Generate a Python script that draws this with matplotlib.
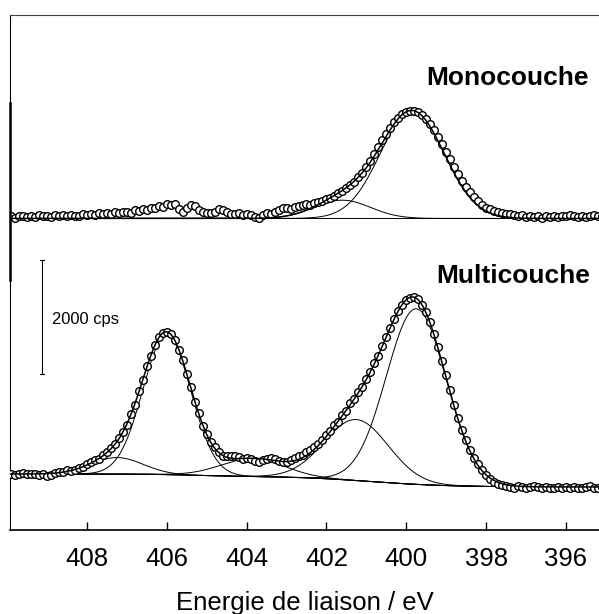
import numpy as np
import matplotlib
matplotlib.use('Agg')
import matplotlib.pyplot as plt

plt.rcParams['font.family'] = ['Liberation Sans', 'DejaVu Sans']

# Binding energy of the measured points (eV), 410.0 down to 395.0 every 0.1 eV
energy = np.linspace(410.0, 395.0, 151)

# Monolayer spectrum, counts above its flat baseline (cps)
mono_counts = [
    20, 45, 10, 35, 50, 25, 40, 30, 55, 35,
    45, 30, 60, 40, 55, 35, 65, 50, 40, 70,
    55, 75, 60, 90, 70, 100, 85, 110, 95, 105,
    120, 100, 140, 125, 165, 150, 190, 175, 215, 200,
    245, 230, 250, 160, 120, 190, 235, 220, 150, 110,
    100, 95, 120, 160, 150, 110, 85, 70, 90, 65,
    80, 60, 30, 5, 60, 90, 80, 105, 150, 175,
    180, 170, 195, 210, 235, 250, 240, 275, 290, 310,
    335, 360, 400, 445, 480, 540, 590, 640, 720, 800,
    900, 1010, 1130, 1250, 1370, 1480, 1590, 1690, 1770, 1830,
    1870, 1890, 1885, 1860, 1820, 1750, 1660, 1550, 1430, 1300,
    1170, 1040, 910, 780, 660, 550, 455, 370, 300, 240,
    190, 165, 135, 115, 100, 85, 70, 60, 50, 55,
    30, 50, 25, 40, 15, 35, 20, 45, 30, 50,
    35, 55, 40, 30, 50, 25, 45, 60, 40, 35,
    50,
]

# Multilayer spectrum (cps)
multi_counts = [
    975, 990, 970, 985, 995, 975, 990, 980, 965, 985,
    945, 960, 1000, 1020, 1010, 1045, 1030, 1060, 1095, 1110,
    1150, 1190, 1220, 1250, 1320, 1370, 1440, 1510, 1610, 1720,
    1850, 2040, 2200, 2430, 2630, 2870, 3050, 3250, 3380, 3450,
    3480, 3440, 3330, 3150, 2980, 2730, 2510, 2250, 2050, 1830,
    1690, 1540, 1450, 1370, 1290, 1300, 1290, 1300, 1280, 1250,
    1270, 1240, 1210, 1190, 1230, 1250, 1260, 1240, 1210, 1200,
    1200, 1230, 1260, 1290, 1320, 1360, 1400, 1450, 1510, 1580,
    1660, 1740, 1840, 1900, 2010, 2090, 2220, 2290, 2420, 2510,
    2640, 2770, 2930, 3060, 3230, 3390, 3550, 3700, 3840, 3950,
    4030, 4070, 4090, 4050, 3950, 3820, 3650, 3440, 3210, 2960,
    2710, 2450, 2200, 1970, 1760, 1570, 1410, 1270, 1150, 1050,
    970, 900, 850, 810, 790, 770, 760, 745, 770, 755,
    740, 760, 775, 750, 735, 760, 745, 730, 750, 740,
    755, 745, 760, 740, 730, 750, 765, 745, 735, 755,
    750,
]

# Fitted components: centre (eV), height (cps), sigma (eV)
mono_centres = [401.6, 399.85]
mono_heights = [320, 1880]
mono_sigmas = [0.70, 0.80]

multi_centres = [407.25, 406.0, 403.85, 401.25, 399.75]
multi_heights = [290, 2450, 310, 1070, 3080]
multi_sigmas = [0.65, 0.60, 0.80, 0.80, 0.75]

# Shirley-like background of the multilayer: low level + steps (height, centre, width)
bg_low = 754
bg_steps = [(193, 400.9, 1.0), (35, 405.5, 0.5)]

mono_offset = 5465  # vertical shift of the monolayer spectrum


def gauss(e, c, h, s):
    return h * np.exp(-(e - c) ** 2 / (2 * s ** 2))


def background(e):
    b = np.full_like(e, bg_low, dtype=float)
    for h, c, w in bg_steps:
        b += h / (1 + np.exp(-(e - c) / w))
    return b


fig = plt.figure(figsize=(5.99, 6.14), dpi=100)
ax = fig.add_axes([10 / 599, 1 - 530 / 614, 589 / 599, 515 / 614])

ef = np.linspace(409.95, 395.15, 800)
thin = dict(color='black', lw=0.7, zorder=2)
mk = dict(ls='none', marker='o', ms=5.5, mfc='white', mec='black', mew=1.0, zorder=3)

# Monolayer
base = np.full_like(ef, mono_offset, dtype=float)
ax.plot(ef, base, **thin)
total = base.copy()
for c, h, s in zip(mono_centres, mono_heights, mono_sigmas):
    g = gauss(ef, c, h, s)
    ax.plot(ef, base + g, **thin)
    total += g
ax.plot(energy, np.array(mono_counts) + mono_offset, **mk)
ax.plot(ef, total, color='black', lw=1.1, zorder=4)

# Multilayer
bg = background(ef)
ax.plot(ef, bg, **thin)
total = bg.copy()
for c, h, s in zip(multi_centres, multi_heights, multi_sigmas):
    g = gauss(ef, c, h, s)
    ax.plot(ef, bg + g, **thin)
    total += g
ax.plot(energy, multi_counts, **mk)
ax.plot(ef, total, color='black', lw=1.1, zorder=4)

# Scale bar 2000 cps
xb = 409.13
ax.plot([xb, xb], [2736, 4736], color='black', lw=0.8)
ax.plot([xb - 0.06, xb + 0.06], [2736, 2736], color='black', lw=0.8)
ax.plot([xb - 0.06, xb + 0.06], [4736, 4736], color='black', lw=0.8)
ax.text(408.88, 3613, '2000 cps', fontsize=11.9, va='baseline', ha='left')

ax.text(395.42, 7805, 'Monocouche', fontsize=19, fontweight='bold',
        ha='right', va='baseline')
ax.text(395.39, 4332, 'Multicouche', fontsize=19, fontweight='bold',
        ha='right', va='baseline')

ax.set_xlim(409.93, 395.17)
ax.set_ylim(0, 9033)
ax.set_xticks([408, 406, 404, 402, 400, 398, 396])
ax.set_yticks([])
ax.tick_params(axis='x', direction='in', length=6, width=1, labelsize=18.5, pad=12.5)
ax.set_xlabel('Energie de liaison / eV', fontsize=18.5, labelpad=14)

ax.spines['right'].set_visible(False)
ax.spines['top'].set_color('#404040')
ax.spines['top'].set_linewidth(0.8)
ax.spines['left'].set_linewidth(0.8)
ax.spines['bottom'].set_linewidth(1.2)
ax.plot([0, 0], [0.485, 0.829], transform=ax.transAxes, color='black',
        lw=1.8, clip_on=False, zorder=5)

fig.savefig('out.png', dpi=100)
